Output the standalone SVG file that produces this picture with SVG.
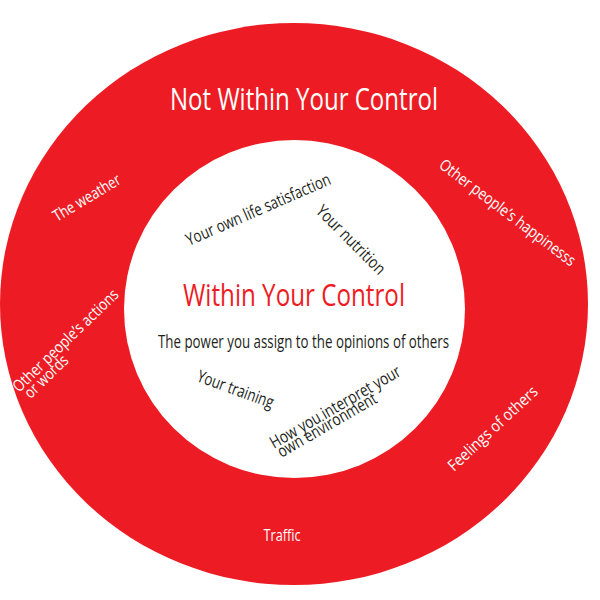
<svg xmlns="http://www.w3.org/2000/svg" width="600" height="600" viewBox="0 0 600 600">
<style>
text{font-family:"Open Sans","Liberation Sans",sans-serif;}
.ring{fill:#ED1C24;}
.core{fill:#FFFFFF;}
.w{fill:#FFFFFF;font-size:16px;}
.d{fill:#231F20;font-size:17px;}
.title-out{fill:#FFFFFF;font-size:31px;}
.title-in{fill:#ED1C24;font-size:31px;}
</style>
<rect width="600" height="600" fill="#FFFFFF"/>
<g id="outer">
<ellipse class="ring" cx="294" cy="304" rx="294" ry="281"/>
<text class="title-out" x="170" y="110" textLength="268" lengthAdjust="spacingAndGlyphs">Not Within Your Control</text>
<text class="w" transform="translate(57,222) rotate(-31)" textLength="76" lengthAdjust="spacingAndGlyphs">The weather</text>
<text class="w" transform="translate(19,393) rotate(-44)"><tspan x="0" y="0" textLength="140" lengthAdjust="spacingAndGlyphs">Other people’s actions</tspan><tspan x="4" y="12.5" textLength="54" lengthAdjust="spacingAndGlyphs">or words</tspan></text>
<text class="w" transform="translate(438,167) rotate(37)" textLength="166" lengthAdjust="spacingAndGlyphs">Other people’s happinesss</text>
<text class="w" transform="translate(454,472) rotate(-43)" textLength="116" lengthAdjust="spacingAndGlyphs">Feelings of others</text>
<text class="w" x="282" y="541" text-anchor="middle" textLength="37" lengthAdjust="spacingAndGlyphs">Traffic</text>
</g>
<g id="inner">
<ellipse class="core" cx="294.5" cy="309" rx="170.5" ry="169"/>
<text class="title-in" x="183" y="306" textLength="222" lengthAdjust="spacingAndGlyphs">Within Your Control</text>
<text class="d" x="158" y="348" textLength="291" lengthAdjust="spacingAndGlyphs" style="font-size:18px">The power you assign to the opinions of others</text>
<text class="d" transform="translate(189,246) rotate(-23.5)" textLength="156" lengthAdjust="spacingAndGlyphs">Your own life satisfaction</text>
<text class="d" transform="translate(315,212) rotate(45)" textLength="90" lengthAdjust="spacingAndGlyphs">Your nutrition</text>
<text class="d" transform="translate(196,381) rotate(20)" textLength="80" lengthAdjust="spacingAndGlyphs">Your training</text>
<text class="d" transform="translate(274,449) rotate(-30)"><tspan x="0" y="0" textLength="148" lengthAdjust="spacingAndGlyphs">How you interpret your</tspan><tspan x="2" y="11.5" textLength="112" lengthAdjust="spacingAndGlyphs">own environment</tspan></text>
</g>
</svg>
